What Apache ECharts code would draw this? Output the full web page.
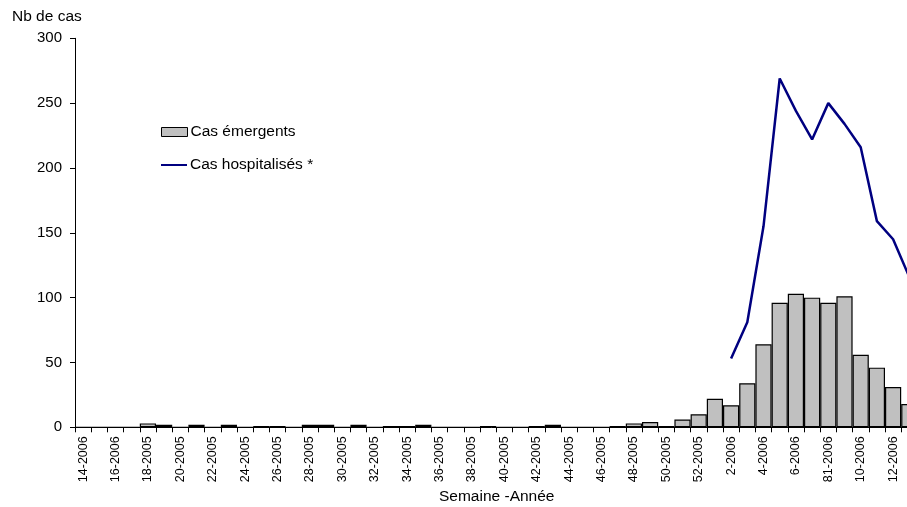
<!DOCTYPE html>
<html>
<head>
<meta charset="utf-8">
<script src="https://cdn.jsdelivr.net/npm/echarts@6/dist/echarts.min.js"></script>
<style>
html,body{margin:0;padding:0;background:#fff;}
#chart{width:907px;height:507px;}
</style>
</head>
<body>
<div id="chart"></div>
<script>
// Week labels as printed in the reference (odd weeks are not labelled)
var weeks = [
  "14-2006","15-2005","16-2006","17-2005","18-2005","19-2005","20-2005","21-2005",
  "22-2005","23-2005","24-2005","25-2005","26-2005","27-2005","28-2005","29-2005",
  "30-2005","31-2005","32-2005","33-2005","34-2005","35-2005","36-2005","37-2005",
  "38-2005","39-2005","40-2005","41-2005","42-2005","43-2005","44-2005","45-2005",
  "46-2005","47-2005","48-2005","49-2005","50-2005","51-2005","52-2005",
  "1-2006","2-2006","3-2006","4-2006","5-2006","6-2006","7-2006","81-2006",
  "9-2006","10-2006","11-2006","12-2006","13-2006"
];
var casEmergents = [
  0,0,0,0,3,2,0,2,
  0,2,0,1,1,0,2,2,
  0,2,0,1,1,2,0,0,
  0,1,0,0,1,2,0,0,
  0,1,3,4,1,6,10,
  22,17,34,64,96,103,100,96,
  101,56,46,31,18
];
var casHospitalises = [
  null,null,null,null,null,null,null,null,
  null,null,null,null,null,null,null,null,
  null,null,null,null,null,null,null,null,
  null,null,null,null,null,null,null,null,
  null,null,null,null,null,null,null,
  null,53,81,155,269,244,222,250,
  234,216,159,145,116
];
var yTicks = [0, 50, 100, 150, 200, 250, 300];

var FONT = '"Liberation Sans", Arial, sans-serif';
var chart = echarts.init(document.getElementById('chart'), null, {renderer: 'canvas'});
chart.setOption({
  animation: false,
  backgroundColor: '#ffffff',
  textStyle: {fontFamily: FONT, color: '#000'},
  grid: {left: 75, top: 38.3, width: 842.4, height: 389, containLabel: false, outerBoundsMode: 'none'},
  legend: [{
    data: ['Cas émergents'],
    left: 161, top: 124, orient: 'vertical',
    itemWidth: 26, itemHeight: 9, itemGap: 0, padding: 0,
    icon: 'rect',
    itemStyle: {color: '#C0C0C0', borderColor: '#000', borderWidth: 1},
    textStyle: {fontFamily: FONT, fontSize: 15.5, color: '#000', padding: [0,0,0,-2]},
    selectedMode: false
  },{
    data: ['Cas hospitalisés *'],
    left: 161, top: 157, orient: 'vertical',
    itemWidth: 26, itemHeight: 2, itemGap: 0, padding: 0,
    icon: 'rect',
    textStyle: {fontFamily: FONT, fontSize: 15.5, color: '#000', padding: [0,0,0,-2]},
    selectedMode: false
  }],
  graphic: [{
    type: 'text', left: 12, top: 9,
    style: {text: 'Nb de cas', fontFamily: FONT, fontSize: 15.5, fill: '#000'}
  },{
    type: 'text', left: 439, top: 489,
    style: {text: 'Semaine -Année', fontFamily: FONT, fontSize: 15.5, fill: '#000'}
  }],
  xAxis: {
    type: 'category',
    data: weeks,
    boundaryGap: true,
    axisLine: {lineStyle: {color: '#000', width: 1}},
    axisTick: {show: true, interval: 0, length: 5, lineStyle: {color: '#000'}},
    axisLabel: {interval: 1, rotate: 90, fontSize: 12.5, fontFamily: FONT, color: '#000', margin: 9},
    splitLine: {show: false}
  },
  yAxis: {
    type: 'value',
    min: 0, max: 300, interval: 50,
    axisLine: {show: true, lineStyle: {color: '#000', width: 1}},
    axisTick: {show: true, length: 5, lineStyle: {color: '#000'}},
    axisLabel: {fontSize: 15, fontFamily: FONT, color: '#000', margin: 13,
      formatter: function (v) { return yTicks.indexOf(v) >= 0 ? String(v) : ''; }},
    splitLine: {show: false}
  },
  series: [{
    name: 'Cas émergents',
    type: 'bar',
    data: casEmergents,
    barCategoryGap: '0%',
    itemStyle: {color: '#C0C0C0', borderColor: '#000', borderWidth: 1.2},
    z: 2
  },{
    name: 'Cas hospitalisés *',
    type: 'line',
    data: casHospitalises,
    showSymbol: false,
    symbol: 'none',
    connectNulls: false,
    lineStyle: {color: '#000080', width: 2.5},
    itemStyle: {color: '#000080'},
    z: 3
  }]
});
</script>
</body>
</html>
